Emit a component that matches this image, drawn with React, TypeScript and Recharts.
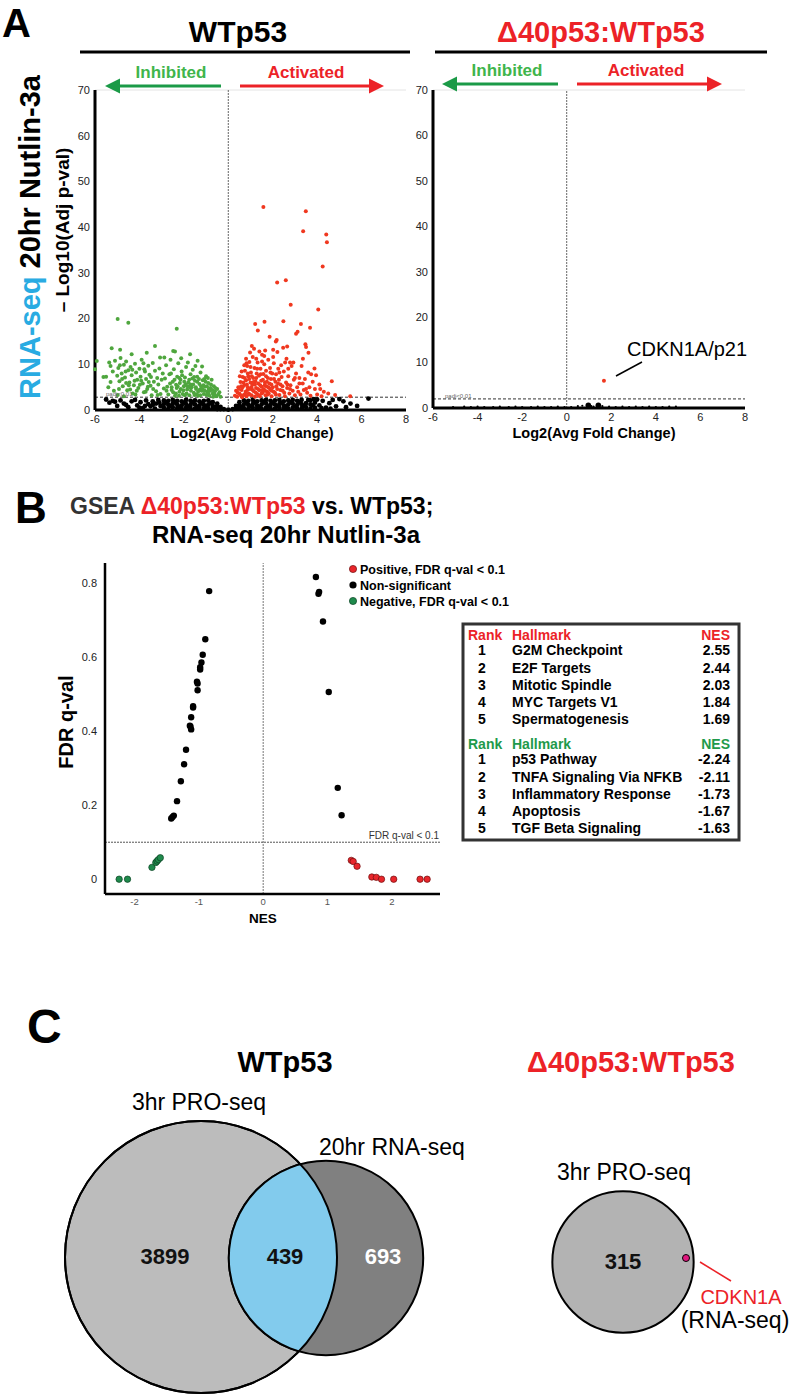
import React from 'react';
import { ScatterChart, Scatter, XAxis, YAxis, ZAxis, ReferenceLine } from 'recharts';

const FONT = '"Liberation Sans", Arial, Helvetica, sans-serif';
const RED = '#ec2227';
const GREEN_TEXT = '#3fb54b';
const GREEN_ARROW = '#1b9a47';
const BLUE = '#29abe2';

type P = [number, number];

// ---- Panel A: WTp53 volcano (log2 FC, -log10 padj)
const wtInhibited: P[] = [
  [-4.98, 19.9], [-4.5, 19.1], [-2.32, 17.8], [-5.92, 10.7], [-6.0, 8.9], [-5.62, 7.2], [-5.5, 7.3],
  [-5.25, 13.5], [-4.87, 13.2], [-3.3, 14.0], [-3.67, 12.5], [-4.35, 12.2], [-1.72, 12.2], [-2.48, 12.9],
  [-2.4, 12.8], [-5.36, 10.4], [-3.07, 11.5],
  [-5.3, 9.6], [-5.2, 8.4], [-5.1, 10.8], [-5.0, 7.5], [-4.95, 9.2], [-4.9, 6.3], [-4.85, 11.4], [-4.8, 8.0],
  [-4.75, 5.2], [-4.7, 9.9], [-4.65, 7.1], [-4.6, 10.6], [-4.55, 4.3], [-4.5, 8.7], [-4.45, 6.0], [-4.4, 9.4],
  [-4.35, 7.6], [-4.3, 3.6], [-4.25, 5.4], [-4.2, 10.1], [-4.15, 8.2], [-4.1, 6.6], [-4.05, 4.8], [-4.0, 9.0],
  [-3.95, 7.3], [-3.9, 11.0], [-3.85, 5.8], [-3.8, 3.9], [-3.75, 8.4], [-3.7, 6.8], [-3.65, 4.6], [-3.6, 9.7],
  [-3.55, 7.7], [-3.5, 5.3], [-3.45, 3.2], [-3.4, 10.3], [-3.35, 6.2], [-3.3, 8.6], [-3.25, 4.1], [-3.2, 7.0],
  [-3.15, 5.6], [-3.1, 9.1], [-3.05, 3.5], [-3.0, 6.6], [-2.95, 8.0], [-2.9, 4.7],
  [-5.4, 5.0], [-5.3, 6.1], [-5.15, 4.2], [-4.98, 3.3], [-4.7, 3.0], [-4.6, 5.9], [-4.42, 4.5], [-4.18, 3.4],
  [-3.98, 5.5], [-3.82, 10.2], [-3.72, 4.0], [-3.58, 6.1], [-3.38, 4.6], [-3.18, 3.3],
  [-2.85, 6.9], [-2.8, 9.8], [-2.75, 5.1], [-2.7, 3.4], [-2.65, 7.8], [-2.6, 11.0], [-2.55, 4.4], [-2.5, 6.2],
  [-2.45, 8.9], [-2.4, 3.1], [-2.35, 5.5], [-2.3, 7.3], [-2.25, 10.2], [-2.2, 4.0], [-2.15, 6.6], [-2.1, 8.4],
  [-2.05, 3.5], [-2.0, 5.2], [-1.95, 7.1], [-1.9, 9.4], [-1.85, 4.5], [-1.8, 6.0], [-1.75, 3.2], [-1.7, 7.8],
  [-1.65, 5.0], [-1.6, 8.8], [-1.55, 3.8], [-1.5, 6.4], [-1.45, 4.6], [-1.4, 7.3], [-1.35, 3.1], [-1.3, 5.7],
  [-1.25, 8.2], [-1.2, 4.2], [-1.15, 6.5], [-1.1, 3.5], [-1.05, 5.1], [-1.0, 7.4], [-0.95, 4.0], [-0.9, 5.9],
  [-0.85, 3.1], [-0.8, 4.8], [-0.75, 6.6], [-0.7, 3.6], [-0.65, 5.2], [-0.6, 4.1], [-0.55, 3.0], [-0.5, 4.6],
  [-0.45, 3.4], [-0.4, 3.9], [-0.35, 2.9],
  [-2.78, 4.2], [-2.62, 5.8], [-2.48, 3.9], [-2.32, 4.8], [-2.18, 5.9], [-2.02, 4.3], [-1.88, 3.6], [-1.72, 4.9],
  [-1.58, 5.6], [-1.42, 3.4], [-1.28, 4.5], [-1.12, 5.4], [-0.98, 3.3], [-0.82, 4.2], [-0.68, 2.9], [-1.62, 6.9],
  [-1.92, 5.6], [-2.22, 3.1], [-1.48, 9.6], [-1.82, 10.4], [-2.12, 11.3], [-1.32, 6.8], [-1.02, 6.2], [-0.92, 7.0],
  [-2.58, 8.0], [-2.88, 11.5], [-1.18, 9.5], [-1.38, 10.8],
  [-2.55, 5.0], [-2.42, 6.6], [-2.28, 5.2], [-2.14, 4.6], [-2.08, 7.6], [-1.98, 6.2], [-1.84, 5.2], [-1.76, 6.6],
  [-1.68, 4.2], [-1.54, 7.2], [-1.46, 5.0], [-1.36, 4.0], [-1.22, 5.2], [-1.16, 4.6], [-1.08, 6.8], [-0.96, 5.2],
  [-0.88, 4.6], [-0.78, 5.6], [-0.72, 4.4], [-0.62, 3.4], [-0.58, 4.8], [-1.52, 3.3], [-1.96, 3.2], [-2.36, 3.6],
  [-1.26, 3.2], [-0.9, 3.6], [-1.7, 5.6], [-2.2, 7.0], [-1.4, 6.2], [-1.06, 4.2],
  [-4.92, 4.6], [-4.78, 6.8], [-4.62, 8.4], [-4.48, 5.4], [-4.32, 8.8], [-4.12, 4.2], [-3.92, 6.4], [-3.78, 8.9],
  [-3.62, 5.1], [-3.48, 7.2], [-4.88, 9.8], [-4.22, 6.4],
];

const wtActivated: P[] = [
  [1.58, 44.4], [3.49, 43.5], [3.37, 39.1], [4.41, 38.4], [4.44, 36.7], [4.25, 31.4], [2.2, 27.9], [2.59, 28.4],
  [2.81, 23.0], [4.05, 22.0], [1.21, 18.8], [1.63, 19.3], [1.33, 17.4], [2.48, 19.4], [3.27, 18.8], [3.68, 18.0],
  [3.05, 16.7], [3.12, 17.1], [2.14, 15.0], [2.18, 15.3], [2.65, 13.9], [2.47, 13.6], [3.47, 14.4], [3.5, 13.8],
  [1.06, 14.0], [1.66, 13.0], [2.21, 12.7], [3.61, 12.5], [0.8, 11.2], [3.36, 11.2], [2.56, 10.4], [2.78, 10.4],
  [2.93, 10.4], [3.88, 9.1], [3.73, 7.8], [4.66, 6.3], [4.14, 4.6], [4.81, 3.3], [5.49, 3.0],
  [0.3, 3.1], [0.35, 4.2], [0.4, 2.9], [0.45, 5.0], [0.5, 3.6], [0.55, 6.1], [0.6, 4.4], [0.62, 2.8], [0.65, 7.2],
  [0.7, 3.3], [0.72, 5.4], [0.75, 8.6], [0.78, 4.0], [0.8, 6.5], [0.82, 3.0], [0.85, 9.6], [0.88, 5.0], [0.9, 7.4],
  [0.92, 3.6], [0.95, 10.5], [0.98, 4.6], [1.0, 6.0], [1.02, 8.2], [1.05, 3.2], [1.08, 5.5], [1.1, 11.6],
  [1.12, 7.0], [1.15, 4.1], [1.18, 9.2], [1.2, 2.9], [1.22, 6.3], [1.25, 4.8], [1.28, 8.0], [1.3, 3.5],
  [1.32, 10.4], [1.35, 5.8], [1.38, 7.5], [1.4, 4.3], [1.42, 3.0], [1.45, 9.0], [1.48, 6.4], [1.5, 5.1],
  [1.52, 12.1], [1.55, 3.8], [1.58, 7.9], [1.6, 4.6], [1.62, 10.0], [1.65, 6.0], [1.68, 3.2], [1.7, 8.6],
  [1.72, 5.2], [1.75, 4.0], [1.78, 7.0], [1.8, 11.0], [1.82, 3.6], [1.85, 5.8], [1.88, 9.2], [1.9, 4.4],
  [1.92, 6.8], [1.95, 3.0], [1.98, 8.0], [2.0, 5.0], [2.05, 10.2], [2.1, 3.8], [2.12, 6.2], [2.15, 7.8],
  [2.2, 4.6], [2.25, 9.0], [2.3, 3.3], [2.35, 5.6], [2.4, 7.2], [2.45, 4.2], [2.5, 8.4], [2.55, 3.0], [2.6, 6.0],
  [2.65, 4.8], [2.7, 7.4], [2.75, 3.6], [2.8, 5.4], [2.85, 9.6], [2.9, 4.2], [2.95, 6.6], [3.0, 3.2], [3.05, 8.0],
  [3.1, 5.0], [3.15, 4.0], [3.2, 7.0], [3.25, 3.4], [3.3, 9.6], [3.35, 5.8], [3.4, 4.4], [3.45, 6.8], [3.55, 3.8],
  [3.6, 8.2], [3.65, 5.0], [3.7, 3.1], [3.8, 6.2], [3.9, 4.6], [3.95, 7.6], [4.0, 3.4], [4.1, 5.6], [4.2, 3.0],
  [4.3, 4.0], [4.5, 3.6],
  [0.42, 3.8], [0.58, 5.2], [0.68, 6.0], [0.76, 3.5], [0.86, 4.4], [0.94, 6.8], [1.04, 5.0], [1.14, 6.1],
  [1.24, 3.8], [1.34, 4.6], [1.44, 5.4], [1.54, 4.3], [1.64, 5.4], [1.74, 6.2], [1.84, 4.8], [1.94, 5.6],
  [2.04, 4.0], [2.14, 3.4], [2.24, 5.8], [2.34, 4.4], [0.52, 7.4], [0.72, 9.8], [0.98, 12.6], [1.16, 13.4],
  [1.4, 12.8], [1.62, 11.8], [2.02, 11.6], [2.38, 9.8], [2.62, 11.2], [2.02, 13.2], [1.86, 16.0], [1.26, 11.2],
  [0.48, 4.6], [0.56, 3.2], [0.64, 5.0], [0.74, 7.0], [0.84, 5.6], [0.88, 8.0], [0.96, 3.4], [1.06, 7.4],
  [1.1, 4.4], [1.2, 5.6], [1.26, 7.0], [1.36, 3.2], [1.46, 7.8], [1.5, 3.6], [1.56, 6.6], [1.66, 4.2],
  [1.7, 7.4], [1.78, 3.4], [1.8, 5.0], [1.9, 8.2], [1.96, 4.2], [2.06, 6.8], [2.16, 5.2], [2.28, 6.6],
  [2.44, 5.2], [2.52, 3.8], [2.66, 5.6], [2.78, 4.6], [0.6, 8.4], [1.0, 9.4], [1.3, 9.0], [1.52, 10.6],
  [0.82, 10.2], [2.3, 8.2], [2.7, 9.0], [3.0, 7.0], [3.2, 5.8], [3.5, 4.6],
];

const wtNonSig: P[] = [
  [-5.5, 2.3], [-5.35, 1.6], [-5.2, 2.0], [-5.0, 0.9], [-4.85, 2.1], [-4.7, 1.4], [-4.5, 0.6], [-4.35, 1.9],
  [-4.2, 2.2], [-4.1, 1.0], [-3.95, 1.7], [-3.85, 0.4], [-3.7, 2.1], [-3.6, 1.3], [-3.5, 0.8], [-3.4, 1.9],
  [-3.3, 0.3], [-3.25, 1.4], [-3.15, 2.2], [-3.05, 0.9],
  [-2.9, 0.5], [-2.9, 1.3], [-2.9, 2.1], [-2.7, 0.3], [-2.7, 1.1], [-2.7, 2.0], [-2.5, 0.6], [-2.5, 1.4], [-2.5, 2.2],
  [-2.3, 0.4], [-2.3, 1.2], [-2.3, 2.0], [-2.1, 0.3], [-2.1, 1.0], [-2.1, 1.9], [-1.9, 0.5], [-1.9, 1.3], [-1.9, 2.2],
  [-1.7, 0.4], [-1.7, 1.1], [-1.7, 2.0], [-1.5, 0.3], [-1.5, 1.2], [-1.5, 2.1], [-1.3, 0.5], [-1.3, 1.0], [-1.3, 1.9],
  [-1.1, 0.3], [-1.1, 1.1], [-1.1, 2.0], [-0.9, 0.4], [-0.9, 1.2], [-0.9, 2.1], [-0.7, 0.3], [-0.7, 0.9], [-0.7, 1.7],
  [-0.5, 0.2], [-0.5, 0.8], [-0.5, 1.4], [-0.35, 0.2], [-0.35, 0.7], [-0.2, 0.2], [0.0, 0.1], [0.2, 0.2],
  [0.35, 0.3], [0.35, 0.9], [0.5, 0.3], [0.5, 1.0], [0.5, 1.7], [0.7, 0.4], [0.7, 1.2], [0.7, 2.1],
  [0.9, 0.3], [0.9, 1.1], [0.9, 2.0], [1.1, 0.5], [1.1, 1.3], [1.1, 2.2], [1.3, 0.4], [1.3, 1.0], [1.3, 1.9],
  [1.5, 0.3], [1.5, 1.2], [1.5, 2.1], [1.7, 0.5], [1.7, 1.4], [1.7, 2.2], [1.9, 0.4], [1.9, 1.1], [1.9, 2.0],
  [2.1, 0.3], [2.1, 1.2], [2.1, 2.1], [2.3, 0.5], [2.3, 1.3], [2.3, 2.2], [2.5, 0.4], [2.5, 1.0], [2.5, 1.9],
  [2.7, 0.3], [2.7, 1.2], [2.7, 2.1], [2.9, 0.5], [2.9, 1.4], [2.9, 2.2], [3.1, 0.3], [3.1, 1.1], [3.1, 2.0],
  [3.3, 0.4], [3.3, 1.3], [3.3, 2.2], [3.5, 0.6], [3.5, 1.5], [3.7, 0.3], [3.7, 1.2], [3.7, 2.1], [3.9, 0.5], [3.9, 1.6],
  [4.1, 1.0], [4.25, 2.0], [4.4, 0.5], [4.55, 1.5], [4.7, 2.2], [4.85, 0.8], [5.0, 2.4], [5.18, 1.9], [5.3, 0.6],
  [5.5, 1.4], [5.8, 0.9], [6.31, 2.5], [4.0, 2.3], [3.85, 2.4], [4.6, 0.3],
  [-2.8, 1.7], [-2.6, 0.9], [-2.4, 1.7], [-2.2, 0.7], [-2.0, 1.6], [-1.8, 0.8], [-1.6, 1.7], [-1.4, 0.7],
  [-1.2, 1.5], [-1.0, 0.8], [-0.8, 1.5], [-0.6, 0.6], [0.6, 0.7], [0.8, 1.6], [1.0, 0.8], [1.2, 1.7],
  [1.4, 0.7], [1.6, 1.8], [1.8, 0.8], [2.0, 1.6], [2.2, 0.8], [2.4, 1.6], [2.6, 0.8], [2.8, 1.7], [3.0, 0.8],
  [3.2, 1.7], [3.4, 0.9], [3.6, 2.2], [3.8, 1.0], [4.2, 0.4], [-3.1, 1.6], [-3.4, 1.1], [-4.0, 0.5],
  [-4.6, 1.1], [-5.1, 1.8], [-3.75, 0.9],
];

// ---- Panel A: Δ40p53:WTp53 volcano
const d40NonSig: P[] = [
  [-5.1, 0.2], [-4.6, 0.3], [-4.3, 0.2], [-4.0, 0.3], [-3.7, 0.2], [-3.3, 0.2], [-3.0, 0.3], [-2.6, 0.2],
  [-2.3, 0.3], [-2.0, 0.2], [-1.6, 0.2], [-1.3, 0.3], [-1.0, 0.2], [-0.7, 0.2], [-0.4, 0.3], [-0.1, 0.2],
  [0.2, 0.2], [0.5, 0.4], [0.7, 0.5], [1.1, 0.4], [1.2, 0.3], [1.6, 0.4], [1.9, 0.3], [2.2, 0.2], [2.5, 0.3],
  [2.8, 0.2], [3.1, 0.3], [3.4, 0.2], [3.7, 0.3], [4.0, 0.2], [4.3, 0.2], [4.6, 0.3], [4.9, 0.3],
];
const d40NonSigTop: P[] = [[0.97, 0.6], [1.42, 0.6]];
const d40Activated: P[] = [[1.67, 6.0]];

const volcanoXTicks = [-6, -4, -2, 0, 2, 4, 6, 8];
const volcanoYTicks = [0, 10, 20, 30, 40, 50, 60, 70];
const padjLine = 2;

// ---- Panel B: GSEA hallmarks (NES, FDR q-val)
const gseaPositive: P[] = [
  [1.37, 0.051], [1.4, 0.048], [1.46, 0.035], [1.69, 0.006], [1.76, 0.005], [1.84, 0.0], [2.03, 0.0], [2.44, 0.0], [2.55, 0.0],
];
const gseaNegative: P[] = [
  [-2.24, 0.0], [-2.11, 0.0], [-1.73, 0.032], [-1.67, 0.045], [-1.65, 0.049], [-1.63, 0.053], [-1.6, 0.058],
];
const gseaNonSig: P[] = [
  [-0.84, 0.779], [-0.9, 0.649], [-0.94, 0.607], [-0.96, 0.586], [-0.98, 0.573], [-0.98, 0.567], [-1.03, 0.534],
  [-1.02, 0.529], [-1.02, 0.511], [-1.09, 0.464], [-1.09, 0.468], [-1.12, 0.438], [-1.13, 0.413], [-1.12, 0.405],
  [-1.14, 0.415], [-1.2, 0.35], [-1.23, 0.311], [-1.28, 0.265], [-1.34, 0.211], [-1.39, 0.172], [-1.41, 0.168],
  [-1.43, 0.164], [0.82, 0.817], [0.87, 0.777], [0.86, 0.772], [0.93, 0.697], [1.02, 0.506], [1.16, 0.247], [1.22, 0.173],
];
const gseaXTicks = [-2, -1, 0, 1, 2];
const gseaYTicks = [0, 0.2, 0.4, 0.6, 0.8];
const fdrCut = 0.1;

const topPositive = [
  { rank: 1, hallmark: 'G2M Checkpoint', nes: '2.55' },
  { rank: 2, hallmark: 'E2F Targets', nes: '2.44' },
  { rank: 3, hallmark: 'Mitotic Spindle', nes: '2.03' },
  { rank: 4, hallmark: 'MYC Targets V1', nes: '1.84' },
  { rank: 5, hallmark: 'Spermatogenesis', nes: '1.69' },
];
const topNegative = [
  { rank: 1, hallmark: 'p53 Pathway', nes: '-2.24' },
  { rank: 2, hallmark: 'TNFA Signaling Via NFKB', nes: '-2.11' },
  { rank: 3, hallmark: 'Inflammatory Response', nes: '-1.73' },
  { rank: 4, hallmark: 'Apoptosis', nes: '-1.67' },
  { rank: 5, hallmark: 'TGF Beta Signaling', nes: '-1.63' },
];

// ---- Panel C: Venn counts
const wtProOnly = 3899;
const wtShared = 439;
const wtRnaOnly = 693;
const d40ProOnly = 315;
const d40Shared = 1; // CDKN1A

// layout for panel C (chart pixels)
const vennPos = {
  wtPro: { x: 201, y: 257 },
  wtRna: { x: 326, y: 258 },
  d40Pro: { x: 623, y: 262 },
  cdkn1a: { x: 686, y: 258 },
  lblWtPro: { x: 165, y: 256 },
  lblShared: { x: 285, y: 256 },
  lblWtRna: { x: 383, y: 256 },
  lblD40: { x: 623, y: 261 },
};

const toPts = (a: P[]) => a.map(([x, y]) => ({ x, y }));

const dot = (r: number, fill: string, stroke = 'none', sw = 0) => (p: any) =>
  p.cx == null ? <g /> : <circle cx={p.cx} cy={p.cy} r={r} fill={fill} stroke={stroke} strokeWidth={sw} />;

const tickStyle = { fontSize: 11, fill: '#222', fontFamily: FONT };

function Volcano({
  width, height, marginLeft, yAxisWidth, marginRight, inhibited, activated, nonSig, nonSigTop, threshold, ySpan,
}: any) {
  return (
    <ScatterChart
      width={width}
      height={height}
      margin={{ top: ySpan[0], right: marginRight, bottom: height - ySpan[1] - 25, left: marginLeft }}
    >
      <XAxis
        type="number"
        dataKey="x"
        domain={[-6, 8]}
        ticks={volcanoXTicks}
        interval={0}
        tickLine={false}
        tickSize={3}
        height={25}
        axisLine={{ stroke: '#000', strokeWidth: 3 }}
        tick={tickStyle}
      />
      <YAxis
        type="number"
        dataKey="y"
        domain={[0, 70]}
        ticks={volcanoYTicks}
        interval={0}
        tickLine={false}
        tickSize={3}
        width={yAxisWidth}
        axisLine={{ stroke: '#000', strokeWidth: 3 }}
        tick={tickStyle}
      />
      <ReferenceLine y={70} stroke="#e4e4e4" strokeWidth={1} />
      <ReferenceLine x={0} stroke="#666" strokeDasharray="2 1" strokeWidth={1} />
      <ReferenceLine y={threshold} stroke="#333" strokeDasharray="3 2" strokeWidth={1} />
      <Scatter data={toPts(nonSig)} shape={dot(nonSigTop ? 1.1 : 2.4, '#000')} isAnimationActive={false} />
      {nonSigTop && <Scatter data={toPts(nonSigTop)} shape={dot(2.8, '#000')} isAnimationActive={false} />}
      <Scatter data={toPts(inhibited)} shape={dot(2, '#4fa63e')} isAnimationActive={false} />
      <Scatter data={toPts(activated)} shape={dot(2, '#f0381f')} isAnimationActive={false} />
    </ScatterChart>
  );
}

function GseaPlot() {
  return (
    <ScatterChart width={460} height={410} margin={{ top: 33, right: 20, bottom: 20, left: 65 }}>
      <XAxis
        type="number"
        dataKey="x"
        domain={[-2.46, 2.75]}
        ticks={gseaXTicks}
        interval={0}
        tickLine={false}
        tickSize={2}
        height={26}
        axisLine={{ stroke: '#000', strokeWidth: 2.5 }}
        tick={{ fontSize: 9.5, fill: '#555', fontFamily: FONT }}
      />
      <YAxis
        type="number"
        dataKey="y"
        domain={[-0.04, 0.855]}
        ticks={gseaYTicks}
        interval={0}
        tickLine={false}
        tickSize={6}
        width={40}
        axisLine={{ stroke: '#000', strokeWidth: 2.5 }}
        tick={tickStyle}
      />
      <ReferenceLine x={0} stroke="#777" strokeDasharray="2 1" strokeWidth={1} />
      <ReferenceLine y={fdrCut} stroke="#555" strokeDasharray="2 1" strokeWidth={1} />
      <Scatter data={toPts(gseaNonSig)} shape={dot(3.2, '#000')} isAnimationActive={false} />
      <Scatter data={toPts(gseaNegative)} shape={dot(3.2, '#1f8a4c', '#0b4424', 0.7)} isAnimationActive={false} />
      <Scatter data={toPts(gseaPositive)} shape={dot(3.2, '#e8262b', '#6d1010', 0.7)} isAnimationActive={false} />
    </ScatterChart>
  );
}

const vennCircle = (fill: string, clipId?: string) => (p: any) => {
  const r = (p.width || 0) / 2;
  return (
    <g>
      {clipId && (
        <defs>
          <clipPath id={clipId}>
            <circle cx={p.cx} cy={p.cy} r={r} />
          </clipPath>
        </defs>
      )}
      <circle cx={p.cx} cy={p.cy} r={r} fill={fill} stroke="#000" strokeWidth={2} />
    </g>
  );
};
const vennLens = (p: any) => (
  <circle cx={p.cx} cy={p.cy} r={(p.width || 0) / 2} fill="#82cbed" stroke="#000" strokeWidth={2} clipPath="url(#clipWtPro)" />
);
const vennOutline = (p: any) => (
  <circle cx={p.cx} cy={p.cy} r={(p.width || 0) / 2} fill="none" stroke="#000" strokeWidth={2} />
);
const vennNumber = (p: any) => (
  <text x={p.cx} y={p.cy} textAnchor="middle" dominantBaseline="central" fontFamily={FONT} fontWeight="bold"
    fontSize={22} fill={p.payload.ink}>{p.payload.count}</text>
);

function VennPanel() {
  const wtPro = [{ ...vennPos.wtPro, total: wtProOnly + wtShared }];
  const wtRna = [{ ...vennPos.wtRna, total: wtShared + wtRnaOnly }];
  const d40Pro = [{ ...vennPos.d40Pro, total: d40ProOnly + d40Shared }];
  const numbers = [
    { ...vennPos.lblWtPro, count: wtProOnly, ink: '#111' },
    { ...vennPos.lblShared, count: wtShared, ink: '#111' },
    { ...vennPos.lblWtRna, count: wtRnaOnly, ink: '#fff' },
    { ...vennPos.lblD40, count: d40ProOnly, ink: '#111' },
  ];
  return (
    <ScatterChart width={797} height={395} margin={{ top: 0, right: 0, bottom: 0, left: 0 }}>
      <XAxis type="number" dataKey="x" domain={[0, 797]} hide />
      <YAxis type="number" dataKey="y" domain={[0, 395]} reversed hide />
      <ZAxis type="number" dataKey="total" domain={[0, wtProOnly + wtShared]} range={[0, 58107]} scale="sqrt" />
      <Scatter data={wtPro} shape={vennCircle('#bcbcbc', 'clipWtPro')} isAnimationActive={false} />
      <Scatter data={wtRna} shape={vennCircle('#808080')} isAnimationActive={false} />
      <Scatter data={wtRna} shape={vennLens} isAnimationActive={false} />
      <Scatter data={wtPro} shape={vennOutline} isAnimationActive={false} />
      <Scatter data={d40Pro} shape={vennCircle('#b3b3b3')} isAnimationActive={false} />
      <Scatter data={[{ ...vennPos.cdkn1a }]} shape={dot(3.5, '#e0187f', '#000', 1)} isAnimationActive={false} />
      <Scatter data={numbers} shape={vennNumber} isAnimationActive={false} />
    </ScatterChart>
  );
}

const T = ({ children, ...rest }: any) => (
  <text fontFamily={FONT} {...rest}>{children}</text>
);

function Arrow({ x1, x2, y, color }: any) {
  const dir = x2 > x1 ? 1 : -1;
  const base = x2 - dir * 15;
  return (
    <g>
      <line x1={x1} y1={y} x2={base} y2={y} stroke={color} strokeWidth={3} />
      <polygon points={`${x2},${y} ${base},${y - 7.5} ${base},${y + 7.5}`} fill={color} />
    </g>
  );
}

function Overlay() {
  const rowsPos = [655, 672.5, 690, 707, 724];
  const rowsNeg = [764, 781.5, 799, 816, 833];
  return (
    <svg width={797} height={1395} style={{ position: 'absolute', left: 0, top: 0, pointerEvents: 'none' }}>
      {/* Panel A */}
      <T x={2} y={37} fontSize={40} fontWeight="bold">A</T>
      <T x={238} y={42} fontSize={30} fontWeight="bold" textAnchor="middle">WTp53</T>
      <line x1={80} y1={52} x2={410} y2={52} stroke="#000" strokeWidth={3} />
      <T x={601} y={42} fontSize={29} fontWeight="bold" textAnchor="middle" fill={RED}>Δ40p53:WTp53</T>
      <line x1={435} y1={52} x2={767} y2={52} stroke="#000" strokeWidth={3} />

      <T x={171} y={78} fontSize={17} fontWeight="bold" textAnchor="middle" fill={GREEN_TEXT}>Inhibited</T>
      <T x={306} y={78} fontSize={17} fontWeight="bold" textAnchor="middle" fill={RED}>Activated</T>
      <Arrow x1={221} x2={105} y={86} color={GREEN_ARROW} />
      <Arrow x1={240} x2={384} y={86} color={RED} />
      <T x={507} y={76} fontSize={17} fontWeight="bold" textAnchor="middle" fill={GREEN_TEXT}>Inhibited</T>
      <T x={646} y={76} fontSize={17} fontWeight="bold" textAnchor="middle" fill={RED}>Activated</T>
      <Arrow x1={558} x2={442} y={84} color={GREEN_ARROW} />
      <Arrow x1={577} x2={722} y={84} color={RED} />

      <T x={40} y={237} fontSize={29} fontWeight="bold" textAnchor="middle" transform="rotate(-90 40 237)">
        <tspan fill={BLUE}>RNA-seq</tspan>
        <tspan fill="#000"> 20hr Nutlin-3a</tspan>
      </T>
      <T x={69} y={230} fontSize={19} fontWeight="bold" textAnchor="middle" transform="rotate(-90 69 230)">
        – Log10(Adj p-val)
      </T>
      <T x={106} y={396} fontSize={6} fill="#666">padj&lt;0.01</T>
      <T x={445} y={398} fontSize={6} fill="#666">padj&lt;0.01</T>
      <T x={252} y={438} fontSize={14.5} fontWeight="bold" textAnchor="middle">Log2(Avg Fold Change)</T>
      <T x={594} y={438} fontSize={14.5} fontWeight="bold" textAnchor="middle">Log2(Avg Fold Change)</T>
      <T x={627} y={356} fontSize={20}>CDKN1A/p21</T>
      <line x1={616} y1={376} x2={642} y2={362} stroke="#000" strokeWidth={1.5} />

      {/* Panel B */}
      <T x={15} y={523} fontSize={44} fontWeight="bold">B</T>
      <T x={70} y={514} fontSize={23} fontWeight="bold">
        <tspan fill="#333">GSEA </tspan>
        <tspan fill={RED}>Δ40p53:WTp53</tspan>
        <tspan fill="#000"> vs. WTp53;</tspan>
      </T>
      <T x={420} y={543} fontSize={24} fontWeight="bold" textAnchor="end">RNA-seq 20hr Nutlin-3a</T>
      <T x={73} y={722} fontSize={20} fontWeight="bold" textAnchor="middle" transform="rotate(-90 73 722)">FDR q-val</T>
      <T x={263} y={923} fontSize={13.5} fontWeight="bold" textAnchor="middle">NES</T>
      <T x={439} y={839} fontSize={10} fill="#333" textAnchor="end">FDR q-val &lt; 0.1</T>

      <circle cx={353} cy={569} r={3.6} fill="#e8262b" stroke="#6d1010" strokeWidth={0.7} />
      <circle cx={353} cy={585} r={3.6} fill="#000" />
      <circle cx={353} cy={601} r={3.6} fill="#1f8a4c" stroke="#0b4424" strokeWidth={0.7} />
      <T x={360} y={573.5} fontSize={12.5} fontWeight="bold">Positive, FDR q-val &lt; 0.1</T>
      <T x={360} y={589.5} fontSize={12.5} fontWeight="bold">Non-significant</T>
      <T x={360} y={605.5} fontSize={12.5} fontWeight="bold">Negative, FDR q-val &lt; 0.1</T>

      <rect x={463} y={624} width={276} height={216} fill="#fff" stroke="#333" strokeWidth={3} />
      <T x={468} y={640} fontSize={14} fontWeight="bold" fill={RED}>Rank</T>
      <T x={512} y={640} fontSize={14} fontWeight="bold" fill={RED}>Hallmark</T>
      <T x={730} y={640} fontSize={14} fontWeight="bold" fill={RED} textAnchor="end">NES</T>
      {topPositive.map((r, i) => (
        <g key={'p' + i}>
          <T x={482} y={rowsPos[i]} fontSize={14} fontWeight="bold" textAnchor="middle">{r.rank}</T>
          <T x={512} y={rowsPos[i]} fontSize={14} fontWeight="bold">{r.hallmark}</T>
          <T x={730} y={rowsPos[i]} fontSize={14} fontWeight="bold" textAnchor="end">{r.nes}</T>
        </g>
      ))}
      <T x={468} y={749} fontSize={14} fontWeight="bold" fill="#1f9a4b">Rank</T>
      <T x={512} y={749} fontSize={14} fontWeight="bold" fill="#1f9a4b">Hallmark</T>
      <T x={730} y={749} fontSize={14} fontWeight="bold" fill="#1f9a4b" textAnchor="end">NES</T>
      {topNegative.map((r, i) => (
        <g key={'n' + i}>
          <T x={482} y={rowsNeg[i]} fontSize={14} fontWeight="bold" textAnchor="middle">{r.rank}</T>
          <T x={512} y={rowsNeg[i]} fontSize={14} fontWeight="bold">{r.hallmark}</T>
          <T x={730} y={rowsNeg[i]} fontSize={14} fontWeight="bold" textAnchor="end">{r.nes}</T>
        </g>
      ))}

      {/* Panel C */}
      <T x={27} y={1043} fontSize={48} fontWeight="bold">C</T>
      <T x={285} y={1072} fontSize={29} fontWeight="bold" textAnchor="middle">WTp53</T>
      <T x={631} y={1072} fontSize={29} fontWeight="bold" textAnchor="middle" fill={RED}>Δ40p53:WTp53</T>
      <T x={199} y={1110} fontSize={23} textAnchor="middle">3hr PRO-seq</T>
      <T x={319} y={1155} fontSize={23}>20hr RNA-seq</T>
      <T x={624} y={1180} fontSize={23} textAnchor="middle">3hr PRO-seq</T>
      <line x1={700} y1={1262} x2={731} y2={1281} stroke={RED} strokeWidth={1.5} />
      <T x={741} y={1304} fontSize={20} textAnchor="middle" fill={RED}>CDKN1A</T>
      <T x={735} y={1328} fontSize={23} textAnchor="middle">(RNA-seq)</T>
    </svg>
  );
}

export default function App() {
  return (
    <div style={{ position: 'absolute', left: 0, top: 0, width: 797, height: 1395, background: '#fff', overflow: 'hidden', fontFamily: FONT }}>
      <div style={{ position: 'absolute', left: 0, top: 0 }}>
        <Volcano
          width={420} height={445} marginLeft={55} yAxisWidth={40} marginRight={14}
          inhibited={wtInhibited} activated={wtActivated} nonSig={wtNonSig} threshold={2.8} ySpan={[90, 410]}
        />
      </div>
      <div style={{ position: 'absolute', left: 400, top: 0 }}>
        <Volcano
          width={397} height={445} marginLeft={0} yAxisWidth={33} marginRight={52}
          inhibited={[]} activated={d40Activated} nonSig={d40NonSig} nonSigTop={d40NonSigTop} threshold={padjLine} ySpan={[90, 408]}
        />
      </div>
      <div style={{ position: 'absolute', left: 0, top: 530 }}>
        <GseaPlot />
      </div>
      <div style={{ position: 'absolute', left: 0, top: 1000 }}>
        <VennPanel />
      </div>
      <Overlay />
    </div>
  );
}
